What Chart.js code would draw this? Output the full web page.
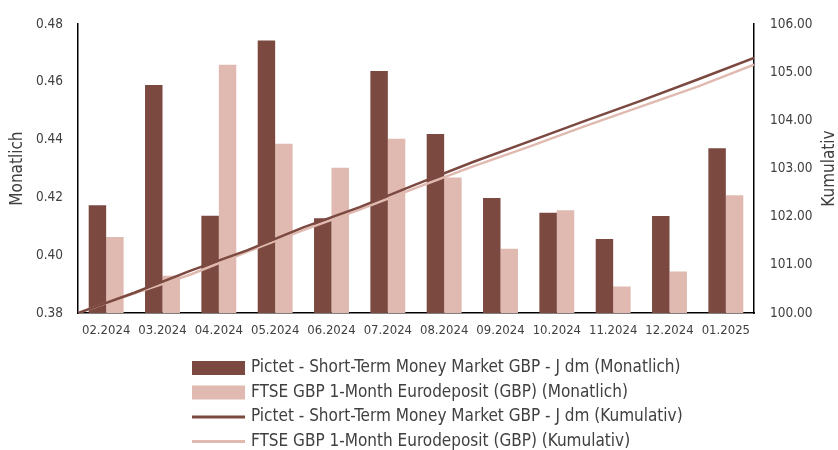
<!DOCTYPE html>
<html>
<head>
<meta charset="utf-8">
<script src="https://cdn.jsdelivr.net/npm/chart.js@4.4.1/dist/chart.umd.min.js"></script>
<style>
  html, body { margin: 0; padding: 0; background: #fff; }
</style>
</head>
<body>
<canvas id="perf-chart" width="838" height="450"></canvas>
<script>
const months = ['02.2024', '03.2024', '04.2024', '05.2024', '06.2024', '07.2024',
  '08.2024', '09.2024', '10.2024', '11.2024', '12.2024', '01.2025'];

// monthly returns (left axis)
const fundMonthly = [0.4173, 0.4589, 0.4137, 0.4743, 0.4128, 0.4638, 0.4420, 0.4198, 0.4147, 0.4056, 0.4136, 0.4370];
const indexMonthly = [0.4063, 0.3929, 0.4659, 0.4386, 0.4303, 0.4403, 0.4269, 0.4022, 0.4156, 0.3892, 0.3944, 0.4208];

// cumulative values at month ends (right axis), 0 = start of 02.2024
const monthEnds = [0, 1, 2, 3, 4, 5, 6, 7, 8, 9, 10, 11, 12];
const fundCumulative = [100, 100.42, 100.88, 101.30, 101.78, 102.20, 102.67, 103.13, 103.56, 103.99, 104.41, 104.85, 105.30];
const indexCumulative = [100, 100.41, 100.80, 101.27, 101.72, 102.15, 102.60, 103.04, 103.45, 103.88, 104.29, 104.70, 105.16];

const FONT = '"DejaVu Sans Condensed", "Liberation Sans Narrow", sans-serif';
const TEXT = '#404040';
const DARK = '#7b4940';
const LIGHT = '#e0bab0';

Chart.defaults.font.family = FONT;
Chart.defaults.color = TEXT;

// bars sit in the middle of each month on the shared linear x axis
const monthMid = months.map((m, i) => i + 0.5);

// legend as a left aligned list + axis titles reading upwards
const extras = {
  id: 'extras',
  afterDraw(chart) {
    const ctx = chart.ctx;
    ctx.save();
    ctx.textBaseline = 'middle';
    ctx.font = '17px ' + FONT;
    chart.data.datasets.forEach((ds, i) => {
      const y = 368 + i * 24.5;
      if (ds.type === 'bar') {
        ctx.fillStyle = ds.backgroundColor;
        ctx.fillRect(192, y - 7, 53, 14);
      } else {
        ctx.strokeStyle = ds.borderColor;
        ctx.lineWidth = 3;
        ctx.beginPath();
        ctx.moveTo(192, y);
        ctx.lineTo(245, y);
        ctx.stroke();
      }
      ctx.fillStyle = TEXT;
      ctx.textAlign = 'left';
      ctx.fillText(ds.label, 251, y);
    });

    const area = chart.chartArea;
    const mid = (area.top + area.bottom) / 2;
    ctx.font = '17px ' + FONT;
    ctx.textAlign = 'center';
    ctx.translate(18, mid);
    ctx.rotate(-Math.PI / 2);
    ctx.fillText('Monatlich', 0, 0);
    ctx.setTransform(1, 0, 0, 1, 0, 0);
    ctx.translate(830, mid);
    ctx.rotate(-Math.PI / 2);
    ctx.fillText('Kumulativ', 0, 0);
    ctx.restore();
  }
};

const ctx = document.getElementById('perf-chart');

new Chart(ctx, {
  data: {
    datasets: [
      {
        type: 'bar',
        label: 'Pictet - Short-Term Money Market GBP - J dm (Monatlich)',
        data: monthMid.map((x, i) => ({ x, y: fundMonthly[i] })),
        backgroundColor: DARK,
        yAxisID: 'y',
        categoryPercentage: 0.62,
        barPercentage: 1,
        order: 2
      },
      {
        type: 'bar',
        label: 'FTSE GBP 1-Month Eurodeposit (GBP) (Monatlich)',
        data: monthMid.map((x, i) => ({ x, y: indexMonthly[i] })),
        backgroundColor: LIGHT,
        yAxisID: 'y',
        categoryPercentage: 0.62,
        barPercentage: 1,
        order: 2
      },
      {
        type: 'line',
        label: 'Pictet - Short-Term Money Market GBP - J dm (Kumulativ)',
        data: monthEnds.map((x, i) => ({ x, y: fundCumulative[i] })),
        borderColor: DARK,
        borderWidth: 2.5,
        pointRadius: 0,
        yAxisID: 'y1',
        order: 0
      },
      {
        type: 'line',
        label: 'FTSE GBP 1-Month Eurodeposit (GBP) (Kumulativ)',
        data: monthEnds.map((x, i) => ({ x, y: indexCumulative[i] })),
        borderColor: LIGHT,
        borderWidth: 2.5,
        pointRadius: 0,
        yAxisID: 'y1',
        order: 1
      }
    ]
  },
  options: {
    responsive: false,
    animation: false,
    layout: { padding: { top: 19, left: 0, right: 0, bottom: 0 } },
    plugins: {
      legend: { display: false },
      tooltip: { enabled: false }
    },
    scales: {
      x: {
        type: 'linear',
        min: 0,
        max: months.length,
        offset: false,
        grid: { display: false, drawTicks: false, offset: false },
        border: { display: true, color: '#000', width: 1.5 },
        afterBuildTicks(scale) {
          scale.ticks = monthMid.map(v => ({ value: v }));
        },
        ticks: {
          font: { size: 13 },
          padding: 10,
          maxRotation: 0,
          autoSkip: false,
          callback: (value, index) => months[index]
        },
        afterFit(scale) { scale.height = 137; }
      },
      y: {
        position: 'left',
        min: 0.38,
        max: 0.48,
        grid: { display: false, drawTicks: false },
        border: { display: true, color: '#000', width: 1.5 },
        ticks: {
          stepSize: 0.02,
          padding: 15,
          font: { size: 13.5 },
          callback: v => v.toFixed(2)
        },
        afterFit(scale) { scale.width = 78; }
      },
      y1: {
        position: 'right',
        min: 100,
        max: 106,
        grid: { display: false, drawTicks: false },
        border: { display: true, color: '#000', width: 1.5 },
        ticks: {
          stepSize: 1,
          padding: 16,
          font: { size: 13.5 },
          callback: v => v.toFixed(2)
        },
        afterFit(scale) { scale.width = 84; }
      }
    }
  },
  plugins: [extras]
});
</script>
</body>
</html>
